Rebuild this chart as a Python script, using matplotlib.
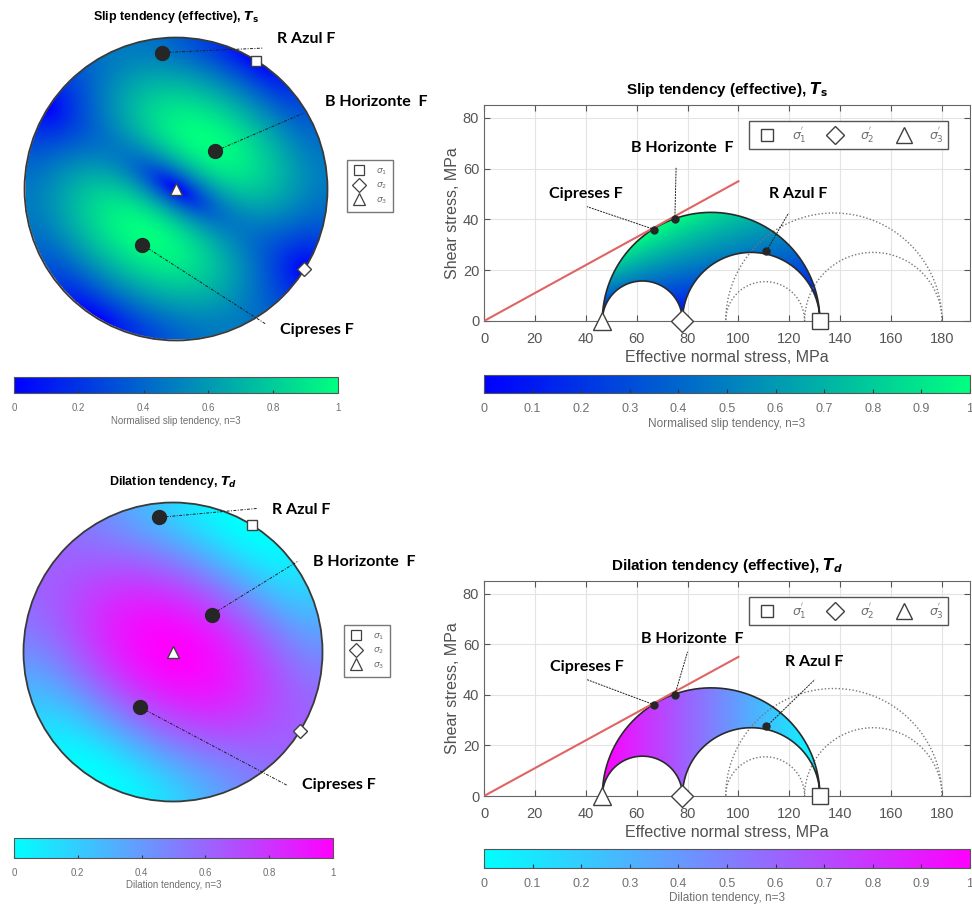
import numpy as np
import matplotlib
matplotlib.use("Agg")
import matplotlib.pyplot as plt
from matplotlib.patches import Circle, PathPatch
from matplotlib.path import Path
from matplotlib.lines import Line2D

plt.rcParams["font.family"] = ["Liberation Sans", "DejaVu Sans"]
plt.rcParams["mathtext.fontset"] = "dejavusans"

# ========================== stress data ========================== #
sig_eff = [132.0, 78.0, 46.5]          # effective sigma1, sigma2, sigma3 (MPa)
sig_tot = [180.0, 126.0, 95.0]         # total stresses (dotted circles)
sig_trend = [32.0, 122.0, 0.0]         # principal axes trend (deg)
sig_plunge = [0.0, 0.0, 90.0]          # principal axes plunge (deg)
mu = 0.55                              # red friction line slope
mu_xend = 100.0

fault_names = ["R Azul F", "B Horizonte  F", "Cipreses F"]
fault_trend = [354.0, 46.0, 211.0]     # poles to fault planes
fault_plunge = [10.4, 60.5, 54.6]
fault_sn = [111.0, 75.0, 67.0]         # Mohr position
fault_tau = [27.5, 40.0, 36.0]

sig_markers = ["s", "D", "^"]
sig_sizes = [8, 8, 10]

fig = plt.figure(figsize=(9.72, 9.06), dpi=100)
W, H = 972.0, 906.0


def fr(x0, y0, x1, y1):
    return [x0 / W, 1 - y1 / H, (x1 - x0) / W, (y1 - y0) / H]


def proj(trend, plunge):
    t = np.radians(trend)
    r = np.sqrt(2) * np.sin(np.radians(90 - np.asarray(plunge)) / 2)
    return r * np.sin(t), r * np.cos(t)


def dircos(trend, plunge):
    t, p = np.radians(trend), np.radians(plunge)
    return np.array([np.cos(p) * np.sin(t), np.cos(p) * np.cos(t), np.sin(p)])


# ---------------- tendency field over the stereonet ---------------- #
g = np.linspace(-1, 1, 500)
GX, GY = np.meshgrid(g, g)
R = np.hypot(GX, GY)
inside = R <= 1.0
pl = 90 - 2 * np.degrees(np.arcsin(np.clip(R, 0, 1) / np.sqrt(2)))
tr = np.degrees(np.arctan2(GX, GY))
nvec = dircos(tr, pl)
sn = np.zeros_like(GX)
s2 = np.zeros_like(GX)
for s, t, p in zip(sig_eff, sig_trend, sig_plunge):
    d = dircos(t, p)
    l = nvec[0] * d[0] + nvec[1] * d[1] + nvec[2] * d[2]
    sn += s * l ** 2
    s2 += s ** 2 * l ** 2
tau = np.sqrt(np.clip(s2 - sn ** 2, 0, None))
ts_max = np.tan(np.arcsin((sig_eff[0] - sig_eff[2]) / (sig_eff[0] + sig_eff[2])))
Ts_net = np.ma.masked_where(~inside, (tau / sn) / ts_max)
Td_net = np.ma.masked_where(~inside, (sig_eff[0] - sn) / (sig_eff[0] - sig_eff[2]))

# ---------------- tendency field over the Mohr region ---------------- #
mx = np.linspace(40, 140, 600)
my = np.linspace(0, 50, 300)
MX, MY = np.meshgrid(mx, my)
Ts_mohr = (MY / MX) / ts_max
Td_mohr = (sig_eff[0] - MX) / (sig_eff[0] - sig_eff[2])


def mohr_path():
    s1, s2_, s3 = sig_eff
    th = np.linspace(np.pi, 0, 200)
    c, r = (s1 + s3) / 2, (s1 - s3) / 2
    xs = list(c + r * np.cos(th)); ys = list(r * np.sin(th))
    th2 = np.linspace(0, np.pi, 200)
    c, r = (s1 + s2_) / 2, (s1 - s2_) / 2
    xs += list(c + r * np.cos(th2)); ys += list(r * np.sin(th2))
    c, r = (s2_ + s3) / 2, (s2_ - s3) / 2
    xs += list(c + r * np.cos(th2)); ys += list(r * np.sin(th2))
    return Path(np.column_stack([xs, ys]))


def stereonet(box, field, cmap, title, title_y, labels, leaders, cbar_box, cbar_label, leg_xy):
    ax = fig.add_axes(fr(*box))
    im = ax.imshow(field, extent=[-1, 1, -1, 1], origin="lower", cmap=cmap,
                   vmin=0, vmax=1, interpolation="bilinear")
    circ = Circle((0, 0), 1.0, transform=ax.transData, fc="none", ec="#3a3a3a", lw=1.3)
    im.set_clip_path(circ)
    ax.add_patch(circ)
    ax.set_xlim(-1.01, 1.01)
    ax.set_ylim(-1.01, 1.01)
    ax.set_aspect("equal")
    ax.axis("off")
    # leader lines and labels
    px, py = proj(fault_trend, fault_plunge)
    for i, name in enumerate(fault_names):
        ex, ey = leaders[i]
        ax.plot([px[i], ex], [py[i], ey], ls=(0, (3, 1.5, 1, 1.5)), lw=0.7,
                color="#202020", clip_on=False, zorder=4)
        lx, ly = labels[i]
        ax.text(lx, ly, name, ha="center", va="center", fontsize=11.5,
                fontweight="bold", family=["Lato", "DejaVu Sans"], clip_on=False)
    ax.plot(px, py, "o", ms=10, color="#262626", zorder=5, clip_on=False)
    sx, sy = proj(sig_trend, sig_plunge)
    for i in range(3):
        ax.plot(sx[i], sy[i], sig_markers[i], ms=sig_sizes[i] - 1, mfc="white",
                mec="#404040", mew=1.0, zorder=6, clip_on=False)
    fig.text((box[0] + box[2]) / 2 / W, 1 - title_y / H, title, ha="center",
             va="center", fontsize=9, fontweight="bold")
    # legend
    hs = [Line2D([], [], ls="none", marker=sig_markers[i], ms=sig_sizes[i] - 1,
                 mfc="white", mec="#404040", mew=0.9) for i in range(3)]
    ax.legend(hs, [r"$\sigma_1$", r"$\sigma_2$", r"$\sigma_3$"], loc="upper left",
              bbox_to_anchor=(leg_xy[0] / W, 1 - leg_xy[1] / H),
              bbox_transform=fig.transFigure, fontsize=6.5, frameon=True,
              fancybox=False, edgecolor="#555555", handlelength=1.2,
              handletextpad=1.3, borderpad=0.7, labelspacing=0.45,
              labelcolor="#707070", borderaxespad=0)
    # colorbar
    cax = fig.add_axes(fr(*cbar_box))
    cb = fig.colorbar(im, cax=cax, orientation="horizontal")
    cb.set_ticks([0, 0.2, 0.4, 0.6, 0.8, 1])
    cb.ax.set_xticklabels(["0", "0.2", "0.4", "0.6", "0.8", "1"])
    cb.ax.tick_params(direction="in", length=2, labelsize=7, labelcolor="#707070",
                      color="#333333", pad=7)
    cb.outline.set_edgecolor("#555555")
    cb.outline.set_linewidth(0.8)
    cb.set_label(cbar_label, fontsize=7, color="#707070", labelpad=2)


def mohr(box, field, cmap, title, labels, leaders, cbar_box, cbar_label):
    ax = fig.add_axes(fr(*box))
    path = mohr_path()
    im = ax.imshow(field, extent=[mx[0], mx[-1], my[0], my[-1]], origin="lower",
                   cmap=cmap, vmin=0, vmax=1, aspect="auto", zorder=2)
    patch = PathPatch(path, fc="none", ec="#2a2a2a", lw=1.2, zorder=3)
    ax.add_patch(patch)
    im.set_clip_path(patch)
    # total stress circles
    th = np.linspace(0, np.pi, 200)
    for a, b in [(sig_tot[2], sig_tot[0]), (sig_tot[1], sig_tot[0]), (sig_tot[2], sig_tot[1])]:
        c, r = (a + b) / 2, (b - a) / 2
        ax.plot(c + r * np.cos(th), r * np.sin(th), ls=(0, (1, 1.5)), lw=1.0,
                color="#777777", zorder=2)
    ax.plot([0, mu_xend], [0, mu * mu_xend], color="#e06464", lw=1.5, zorder=3)
    for i, name in enumerate(fault_names):
        ex, ey = leaders[i]
        ax.plot([fault_sn[i], ex], [fault_tau[i], ey], ls=(0, (2, 1)), lw=0.7,
                color="#202020", zorder=4)
        lx, ly = labels[i]
        ax.text(lx, ly, name, ha="center", va="center", fontsize=11.5,
                fontweight="bold", family=["Lato", "DejaVu Sans"], zorder=6)
    ax.plot(fault_sn, fault_tau, "o", ms=5, color="#262626", zorder=5)
    for i in range(3):
        ax.plot(sig_eff[i], 0, sig_markers[i], ms=sig_sizes[i] + 3, mfc="white",
                mec="#404040", mew=1.0, zorder=6, clip_on=False)
    ax.set_xlim(0, 191)
    ax.set_ylim(0, 85)
    ax.set_xticks(np.arange(0, 181, 20))
    ax.set_yticks(np.arange(0, 81, 20))
    ax.grid(True, color="#e3e3e3", lw=0.8, zorder=0)
    ax.set_axisbelow(True)
    ax.tick_params(direction="in", top=True, right=True, length=4, labelsize=10.5,
                   labelcolor="#555555", color="#555555")
    ax.tick_params(axis="x", pad=8)
    for sp in ax.spines.values():
        sp.set_color("#666666")
        sp.set_linewidth(0.8)
    ax.set_xlabel("Effective normal stress, MPa", fontsize=11.5, color="#505050", labelpad=3)
    ax.set_ylabel("Shear stress, MPa", fontsize=11.5, color="#505050", labelpad=2)
    ax.set_title(title, fontsize=11, fontweight="bold", pad=8)
    hs = [Line2D([], [], ls="none", marker=sig_markers[i], ms=sig_sizes[i] + 1,
                 mfc="white", mec="#404040", mew=1.0) for i in range(3)]
    ax.legend(hs, [r"$\sigma^{'}_1$", r"$\sigma^{'}_2$", r"$\sigma^{'}_3$"],
              loc="upper right", ncol=3, fontsize=9, frameon=True, fancybox=False,
              edgecolor="#555555", framealpha=1, handlelength=2.2,
              handletextpad=0.9, columnspacing=1.2, borderpad=0.35,
              labelcolor="#707070", bbox_to_anchor=(0.967, 0.955))
    cax = fig.add_axes(fr(*cbar_box))
    cb = fig.colorbar(im, cax=cax, orientation="horizontal")
    cb.set_ticks(np.round(np.arange(0, 1.01, 0.1), 1))
    cb.ax.set_xticklabels(["0"] + ["%.1f" % v for v in np.arange(0.1, 0.95, 0.1)] + ["1"])
    cb.ax.tick_params(direction="in", length=3, labelsize=9, labelcolor="#707070",
                      color="#333333", pad=7)
    cb.outline.set_edgecolor("#555555")
    cb.outline.set_linewidth(0.8)
    cb.set_label(cbar_label, fontsize=8.5, color="#707070", labelpad=2)


# ------------------------- top row: slip ------------------------- #
stereonet((23, 36, 329, 342), Ts_net, "winter",
          r"Slip tendency (effective), $\mathbfit{T}_{\mathbf{s}}$", 17,
          labels=[(0.86, 0.99), (1.32, 0.575), (0.93, -0.93)],
          leaders=[(0.57, 0.93), (0.84, 0.50), (0.59, -0.89)],
          cbar_box=(14, 377, 338, 393), cbar_label="Normalised slip tendency, n=3",
          leg_xy=(347, 160))
mohr((484, 105, 970, 321), Ts_mohr, "winter",
     r"Slip tendency (effective), $\mathbfit{T}_{\mathbf{s}}$",
     labels=[(123.6, 50), (78, 68), (40, 50)],
     leaders=[(119.7, 42.5), (75.5, 60.6), (40.5, 45)],
     cbar_box=(484, 375, 970, 393), cbar_label="Normalised slip tendency, n=3")

# ----------------------- bottom row: dilation ----------------------- #
stereonet((22, 501, 324, 803), Td_net, "cool",
          r"Dilation tendency, $\mathbfit{T}_{\mathbfit{d}}$", 482,
          labels=[(0.86, 0.95), (1.28, 0.60), (1.11, -0.89)],
          leaders=[(0.56, 0.96), (0.84, 0.61), (0.76, -0.89)],
          cbar_box=(14, 838, 333, 858), cbar_label="Dilation tendency, n=3",
          leg_xy=(344, 625))
mohr((484, 581, 970, 796), Td_mohr, "cool",
     r"Dilation tendency (effective), $\mathbfit{T}_{\mathbfit{d}}$",
     labels=[(129.6, 53), (82, 62), (40.5, 51)],
     leaders=[(130, 46), (80, 57), (40.5, 46)],
     cbar_box=(484, 849, 970, 868), cbar_label="Dilation tendency, n=3")

fig.savefig("out.png", dpi=100)
